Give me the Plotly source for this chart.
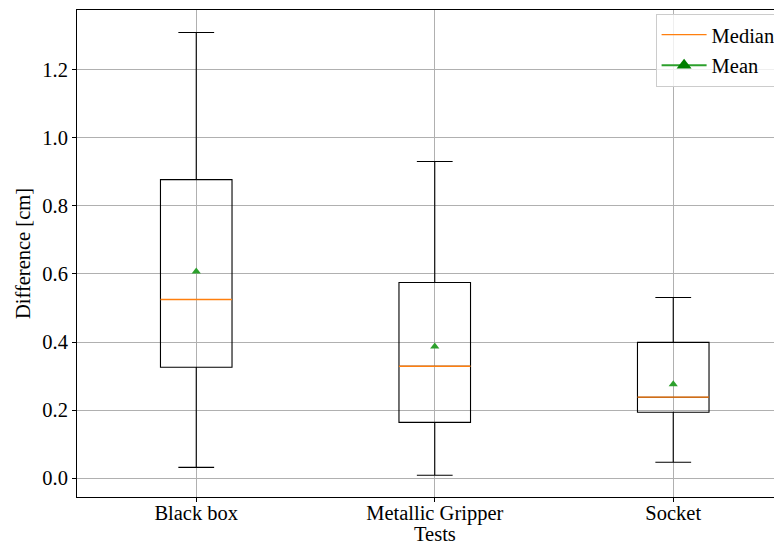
import plotly.graph_objects as go

categories = ["Black box", "Metallic Gripper", "Socket"]
positions = [1, 2, 3]
lower_whisker = [0.032, 0.009, 0.047]
q1 = [0.326, 0.164, 0.194]
median = [0.525, 0.329, 0.238]
q3 = [0.877, 0.575, 0.399]
upper_whisker = [1.309, 0.930, 0.531]
mean = [0.607, 0.387, 0.276]
y_ticks = [0.0, 0.2, 0.4, 0.6, 0.8, 1.0, 1.2]

BOX_W = 0.3
FONT = "Liberation Serif"
FS = 20.5

fig = go.Figure()

fig.add_trace(go.Box(
    x=positions, q1=q1, median=median, q3=q3,
    lowerfence=lower_whisker, upperfence=upper_whisker,
    width=BOX_W, whiskerwidth=0.5, boxpoints=False,
    line=dict(color="black", width=1.1),
    fillcolor="rgba(0,0,0,0)", showlegend=False, hoverinfo="skip",
))

# median lines (orange)
mx, my = [], []
for p, m in zip(positions, median):
    mx += [p - BOX_W / 2, p + BOX_W / 2, None]
    my += [m, m, None]
fig.add_trace(go.Scatter(x=mx, y=my, mode="lines",
                         line=dict(color="#ff7f0e", width=1.3),
                         name="Median", showlegend=True, legendgroup="a"))

# mean markers
fig.add_trace(go.Scatter(x=positions, y=mean, mode="markers",
                         marker=dict(symbol="triangle-up", color="#2ca02c", size=8),
                         showlegend=False))

# legend-only mean entry
fig.add_trace(go.Scatter(x=[None], y=[None], mode="lines+markers",
                         line=dict(color="#2ca02c", width=2),
                         marker=dict(symbol="triangle-up", color="#008000", size=13),
                         name="Mean", legendgroup="b"))

axis_common = dict(
    showgrid=True, gridcolor="#b0b0b0", gridwidth=0.8,
    ticks="outside", ticklen=4, tickwidth=1, tickcolor="black",
    showline=True, linecolor="black", linewidth=1,
    zeroline=False, tickfont=dict(family=FONT, size=FS, color="black"),
)

fig.update_xaxes(
    **axis_common, range=[0.5, 3.456], tickmode="array",
    tickvals=positions, ticktext=categories, mirror=True,
    ticklabelstandoff=-7,
)
fig.update_yaxes(
    **axis_common, range=[-0.055, 1.375], tickmode="array",
    tickvals=y_ticks, ticktext=[f"{v:.1f}" for v in y_ticks],
    title=dict(text="Difference [cm]", font=dict(family=FONT, size=FS, color="black"), standoff=6),
)

fig.add_annotation(text="Tests", xref="paper", yref="paper", x=0.5 - (3.456 - 3.5) / (2 * (3.456 - 0.5)),
                   y=0, yshift=-37, yanchor="middle", showarrow=False,
                   font=dict(family=FONT, size=FS, color="black"))

fig.update_layout(
    width=774, height=537,
    margin=dict(l=69, r=0, t=2, b=48),
    plot_bgcolor="white", paper_bgcolor="white",
    font=dict(family=FONT, size=FS, color="black"),
    legend=dict(x=0.998, y=0.992, xanchor="right", yanchor="top",
                bgcolor="rgba(255,255,255,0.8)", bordercolor="#cccccc", borderwidth=1,
                font=dict(family=FONT, size=FS), tracegroupgap=1, itemwidth=45),
)

fig.write_html("out.html")
